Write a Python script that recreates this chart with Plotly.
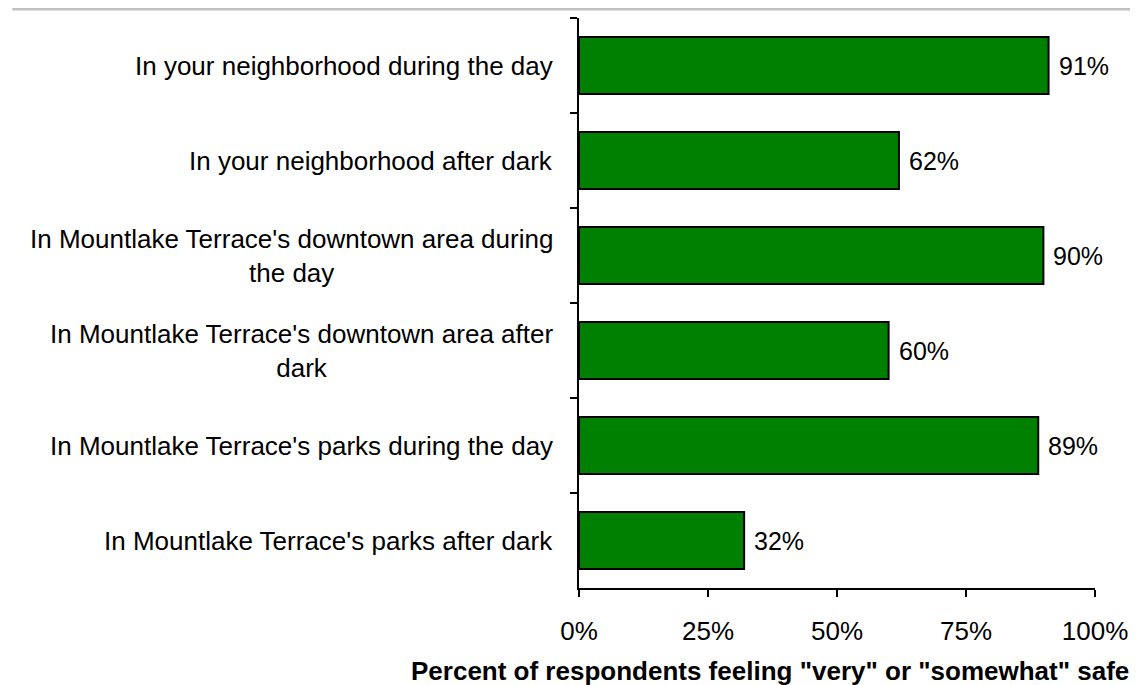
import plotly.graph_objects as go

categories = [
    "In your neighborhood during the day",
    "In your neighborhood after dark",
    "In Mountlake Terrace's downtown area during<br>the day",
    "In Mountlake Terrace's downtown area after<br>dark",
    "In Mountlake Terrace's parks during the day",
    "In Mountlake Terrace's parks after dark",
]
values = [91, 62, 90, 60, 89, 32]
x_tickvals = [0, 25, 50, 75, 100]
x_ticktext = ["0%", "25%", "50%", "75%", "100%"]
axis_title = 'Percent of respondents feeling "very" or "somewhat" safe'

FONT = "Arial, Liberation Sans, sans-serif"
# page body has an 8px default margin; figure fills the rest of the window
W, H = 1130, 677
L, R, T, B = 571, 39, 10, 97
plot_w = W - L - R
plot_h = H - T - B

fig = go.Figure()
fig.add_trace(go.Bar(
    y=categories,
    x=values,
    orientation="h",
    marker=dict(color="#008000", line=dict(color="black", width=2)),
    hoverinfo="skip",
))

annotations = []
for c, v in zip(categories, values):
    annotations.append(dict(
        x=v, y=c, xref="x", yref="y", text=f"{v}%", showarrow=False,
        xanchor="left", yanchor="middle", xshift=8,
        font=dict(family=FONT, size=25, color="black"),
    ))
    annotations.append(dict(
        x=0, y=c, xref="paper", yref="y", text=c, showarrow=False,
        xanchor="right", yanchor="middle", xshift=-24, align="center",
        font=dict(family=FONT, size=26, color="black"),
    ))
annotations.append(dict(
    x=1, y=0, xref="paper", yref="paper", text=f"<b>{axis_title}</b>",
    showarrow=False, xanchor="right", yanchor="middle", xshift=36, yshift=-83,
    font=dict(family=FONT, size=26, color="black"),
))

# top gray rule
x0p = (0 - L) / plot_w
x1p = (W - L) / plot_w
yp = (H - B - 1) / plot_h

fig.update_layout(
    width=W, height=H,
    margin=dict(l=L, r=R, t=T, b=B, pad=0),
    paper_bgcolor="white", plot_bgcolor="white",
    bargap=0.4,
    showlegend=False,
    font=dict(family=FONT, size=25, color="black"),
    annotations=annotations,
    shapes=[dict(type="line", xref="paper", yref="paper", x0=x0p, x1=x1p,
                 y0=yp, y1=yp, line=dict(color="#c0c0c0", width=3))],
    xaxis=dict(
        range=[0, 100], tickvals=x_tickvals, ticktext=x_ticktext,
        ticks="outside", ticklen=7, tickwidth=2, tickcolor="black",
        showline=True, linecolor="black", linewidth=2,
        showgrid=False, zeroline=False, fixedrange=True,
        tickfont=dict(family=FONT, size=26, color="black"),
        ticklabelstandoff=12,
    ),
    yaxis=dict(
        autorange="reversed", tickson="boundaries",
        ticks="outside", ticklen=7, tickwidth=2, tickcolor="black",
        showline=True, linecolor="black", linewidth=2,
        showgrid=False, zeroline=False, showticklabels=False, fixedrange=True,
    ),
)

fig.write_html("out.html")
